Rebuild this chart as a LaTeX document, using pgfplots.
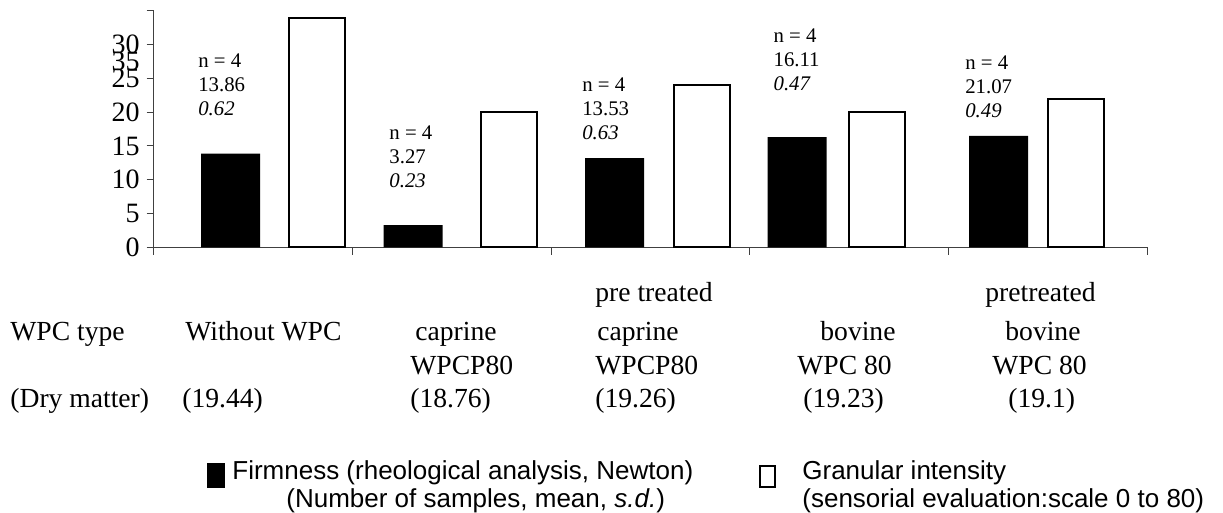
\documentclass[border=0pt]{standalone}
\usepackage{pgfplots}
\pgfplotsset{compat=1.18}
\usepackage{fontspec}
\setmainfont{Liberation Serif}
\newfontfamily\arial{Liberation Sans}
\begin{document}
\begin{tikzpicture}
\begin{axis}[
  at={(0pt,0pt)}, anchor=south west,
  scale only axis, width=496.65pt, height=118.23pt,
  xmin=0, xmax=5, ymin=0, ymax=35,
  axis x line*=bottom, axis y line*=left,
  axis line style={black!75, line width=0.5pt},
  tick align=outside, major tick length=3.7pt,
  tick style={black!75, line width=0.5pt},
  xtick={0,1,2,3,4,5}, xticklabels={},
  ytick={0,5,10,15,20,25,30,35},
  yticklabels={0,5,10,15,20,25,30,{}},
  extra y ticks={27.5}, extra y tick labels={35},
  extra y tick style={major tick length=0pt, yticklabel style={xshift=-3.7pt}},
  yticklabel style={font=\fontsize{14}{14}\selectfont},
  /pgf/number format/assume math mode=true,
  clip=false,
]
\addplot[ybar, bar shift=0pt, bar width=0.297, fill=black, draw=none]
  coordinates {(0.386,13.86) (1.304,3.27) (2.319,13.2) (3.237,16.3) (4.252,16.5)};
\addplot[ybar, bar shift=0pt, bar width=0.282, fill=white, draw=black, line width=1pt]
  coordinates {(0.821,34) (1.787,20) (2.760,24) (3.640,20) (4.643,22)};
\tikzset{ann/.style={anchor=west, align=left, inner sep=0pt, font=\fontsize{10.4}{12}\selectfont}}
\node[ann] at (axis cs:0.221,24.0) {n = 4\\13.86\\\textit{0.62}};
\node[ann] at (axis cs:1.183,13.37) {n = 4\\3.27\\\textit{0.23}};
\node[ann] at (axis cs:2.154,20.57) {n = 4\\13.53\\\textit{0.63}};
\node[ann] at (axis cs:3.117,27.7) {n = 4\\16.11\\\textit{0.47}};
\node[ann] at (axis cs:4.082,23.7) {n = 4\\21.07\\\textit{0.49}};
\end{axis}
\tikzset{lab/.style={anchor=base west, inner sep=0pt, font=\fontsize{13.8}{14}\selectfont},
  leg/.style={anchor=base west, inner sep=0pt, font=\arial\fontsize{13}{14}\selectfont}}
% category rows
\node[lab] at (-72pt,-46.85pt) {WPC type};
\node[lab] at (15.5pt,-46.85pt) {Without WPC};
\node[lab] at (130.5pt,-46.85pt) {caprine};
\node[lab] at (128pt,-63.85pt) {WPCP80};
\node[lab] at (220.5pt,-27.35pt) {pre treated};
\node[lab] at (221.5pt,-46.85pt) {caprine};
\node[lab] at (220.5pt,-63.85pt) {WPCP80};
\node[lab] at (333pt,-46.85pt) {bovine};
\node[lab] at (321.5pt,-63.85pt) {WPC 80};
\node[lab] at (415.5pt,-27.35pt) {pretreated};
\node[lab] at (425.5pt,-46.85pt) {bovine};
\node[lab] at (419pt,-63.85pt) {WPC 80};
\node[lab] at (-72pt,-80.35pt) {(Dry matter)};
\node[lab] at (14pt,-80.35pt) {(19.44)};
\node[lab] at (128pt,-80.35pt) {(18.76)};
\node[lab] at (220.5pt,-80.35pt) {(19.26)};
\node[lab] at (324.5pt,-80.35pt) {(19.23)};
\node[lab] at (427pt,-80.35pt) {(19.1)};
% legend
\fill[black] (26.5pt,-107.85pt) rectangle (35.5pt,-120.35pt);
\node[leg] at (39pt,-116.35pt) {Firmness (rheological analysis, Newton)};
\node[leg] at (66pt,-130.35pt) {(Number of samples, mean, \textit{s.d.})};
\draw[black, line width=0.75pt, fill=white] (303pt,-109.35pt) rectangle (310.5pt,-119.85pt);
\node[leg] at (324pt,-116.35pt) {Granular intensity};
\node[leg] at (324pt,-130.35pt) {(sensorial evaluation:scale 0 to 80)};
\pgfresetboundingbox
\path[use as bounding box] (-77pt,-132.85pt) rectangle (534.5pt,123.65pt);
\end{tikzpicture}
\end{document}
